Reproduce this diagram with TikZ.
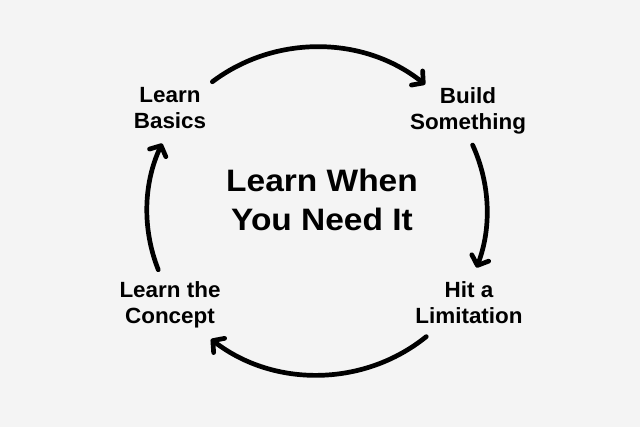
\documentclass[tikz,border=0pt]{standalone}
\usepackage{fontspec}
\setmainfont{Liberation Sans}
\newfontfamily\labfont{Liberation Sans}[FakeStretch=1.02]
\newfontfamily\titlefont{Liberation Sans}[FakeStretch=1.08]
\usetikzlibrary{arrows.meta,calc}
\definecolor{bg}{RGB}{244,244,244}
\begin{document}
\begin{tikzpicture}[x=1pt,y=-1pt,
  lab/.style={inner sep=0pt,anchor=north,align=center,font=\labfont\bfseries\fontsize{22}{26}\selectfont},
  ttl/.style={inner sep=0pt,anchor=north,align=center,font=\titlefont\bfseries\fontsize{31}{39}\selectfont},
  cyc/.style={line width=4.7pt,line cap=round,-{Straight Barb[length=8pt,width=18pt,round]}}]
\fill[bg] (0,0) rectangle (640,427);
\useasboundingbox (0,0) rectangle (640,427);
\coordinate (ctr) at (317,211);
\node[lab] (lb) at (170,87.5) {Learn\\Basics};
\node[lab] (bs) at (468,87.5) {Build\\Something};
\node[lab] (hl) at (469,281.5) {Hit a\\Limitation};
\node[lab] (lc) at (170,281.5) {Learn the\\Concept};
\node[ttl] (title) at (322,168.5) {Learn When\\You Need It};
\coordinate (s1) at ($(ctr)+(-128:170 and 164)$);
\coordinate (s2) at ($(ctr)+(-23.7:170 and 164)$);
\coordinate (s3) at ($(ctr)+(50:170 and 164)$);
\coordinate (s4) at ($(ctr)+(159:170 and 164)$);
\draw[cyc] (s1) arc[start angle=-128,end angle=-50.5,x radius=170,y radius=164];
\draw[cyc] (s2) arc[start angle=-23.7,end angle=20.2,x radius=170,y radius=164];
\draw[cyc] (s3) arc[start angle=50,end angle=128.6,x radius=170,y radius=164];
\draw[cyc] (s4) arc[start angle=159,end angle=204.3,x radius=170,y radius=164];
\end{tikzpicture}
\end{document}
